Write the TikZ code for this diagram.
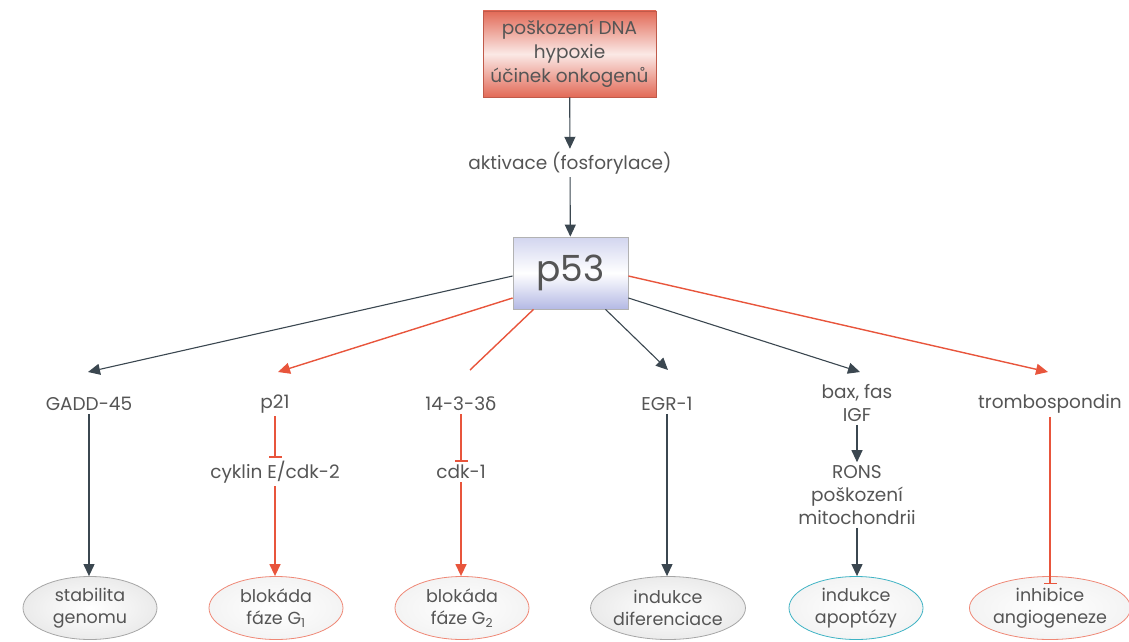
\documentclass[tikz,border=0pt]{standalone}
\usepackage{fontspec}
\setmainfont{Poppins}
\newfontfamily\grk{DejaVu Sans}
\usetikzlibrary{arrows.meta,shapes.geometric}
\definecolor{txt}{HTML}{555555}
\definecolor{ln}{HTML}{3B4750}
\definecolor{rd}{HTML}{E8553C}
\definecolor{boxred}{HTML}{E26A57}
\definecolor{lav}{HTML}{B4B9E4}
\definecolor{cyanline}{HTML}{3FB3C4}
\begin{document}
\begin{tikzpicture}[x=1pt,y=-1pt,
  font=\fontsize{18.5}{23}\selectfont, text=txt,
  lbl/.style={align=center, inner sep=3pt},
  dk/.style={draw=ln, line width=1.1pt, -{Triangle[length=12pt,width=11pt]}},
  rdarr/.style={draw=rd, line width=1.4pt, -{Triangle[length=12pt,width=11pt]}},
  rdline/.style={draw=rd, line width=1.4pt},
  inh/.style={draw=rd, line width=1.4pt, -{Bar[width=13pt,line width=1.6pt]}},
  ell/.style={ellipse, minimum width=134pt, minimum height=63pt, inner sep=0pt,
    align=center, line width=0.8pt, shading=radial, inner color=white, outer color=gray!9,
    font=\fontsize{17.5}{22}\selectfont},
  grayell/.style={ell, draw=gray!70, outer color=gray!16},
  redell/.style={ell, draw=rd!70},
  cyanell/.style={ell, draw=cyanline}]
\useasboundingbox (0,0) rectangle (1129,642);

% top box
\node[draw=boxred!85!black, line width=0.8pt, top color=boxred, bottom color=boxred, middle color=white!85!boxred,
  minimum width=173pt, minimum height=86pt, align=center, inner sep=2pt,
  font=\fontsize{18.5}{24}\selectfont] (top) at (569.5,54) {poškození DNA\\hypoxie\\účinek onkogenů};

\node[lbl] (akt) at (570,163) {aktivace (fosforylace)};

\node[draw=gray!60, line width=0.8pt, top color=lav!60, bottom color=lav, middle color=white,
  minimum width=115pt, minimum height=72pt, inner sep=0pt,
  font=\fontsize{36}{40}\selectfont] (p53) at (570.5,273) {p53};

\draw[dk] (top) -- (akt);
\draw[dk] (akt) -- (p53);

% first level labels
\node[lbl] (gadd) at (89,404) {GADD-45};
\node[lbl] (p21) at (275,404) {p21};
\node[lbl] (s1433) at (461,404) {14-3-3{\grk δ}};
\node[lbl] (egr) at (667,404) {EGR-1};
\node[lbl] (bax) at (857,403) {bax, fas\\IGF};
\node[lbl] (trombo) at (1050,404) {trombospondin};

% arrow tips
\coordinate (tgadd) at (88,372);
\coordinate (tp21) at (278,372);
\coordinate (t1433) at (470,370);
\coordinate (tegr) at (668,370);
\coordinate (tbax) at (860,372);
\coordinate (ttr) at (1048,372);

\draw[dk] ([yshift=-3pt]p53.west) -- (tgadd);
\draw[rdarr] ([yshift=-25pt]p53.west) -- (tp21);
\draw[rdline] ([xshift=-37pt]p53.south) -- (t1433);
\draw[dk] ([xshift=35pt]p53.south) -- (tegr);
\draw[dk] ([yshift=-25pt]p53.east) -- (tbax);
\draw[rdarr] ([yshift=-3pt]p53.east) -- (ttr);

% second level
\node[lbl] (cyk) at (275,472) {cyklin E/cdk-2};
\node[lbl] (cdk) at (461,472) {cdk-1};
\node[lbl] (rons) at (857,495) {RONS\\poškození\\mitochondrii};

% ellipses
\node[grayell] (e1) at (90,608) {stabilita\\genomu};
\node[redell] (e2) at (276,608) {blokáda\\fáze G\textsubscript{1}};
\node[redell] (e3) at (462,608) {blokáda\\fáze G\textsubscript{2}};
\node[grayell] (e4) at (668,608) {indukce\\diferenciace};
\node[cyanell] (e5) at (856,608) {indukce\\apoptózy};
\node[redell] (e6) at (1050,608) {inhibice\\angiogeneze};

\draw[dk] (gadd) -- (gadd |- e1.north);
\draw[inh] (p21) -- (cyk);
\draw[rdarr] (cyk) -- (cyk |- e2.north);
\draw[inh] (s1433) -- (cdk);
\draw[rdarr] (cdk) -- (cdk |- e3.north);
\draw[dk] (egr) -- (egr |- e4.north);
\draw[dk] (bax) -- (rons);
\draw[dk] (rons) -- (rons |- e5.north);
\draw[inh] (trombo) -- ([yshift=-8pt]trombo |- e6.north);
\end{tikzpicture}
\end{document}
